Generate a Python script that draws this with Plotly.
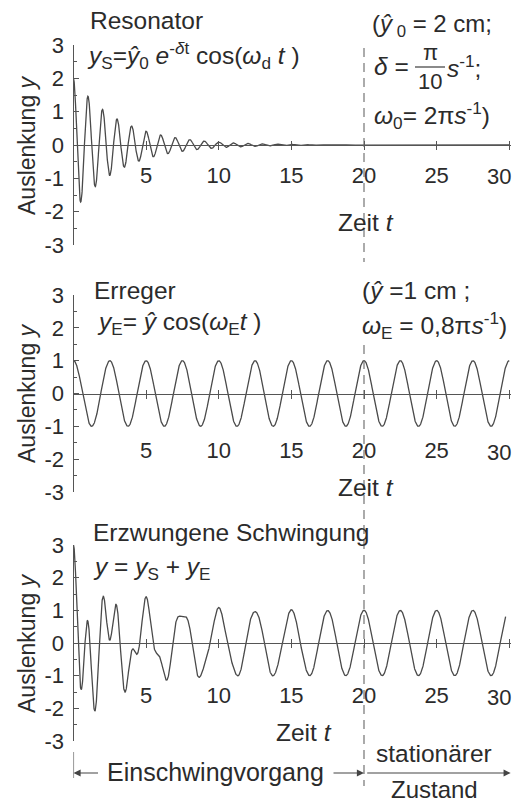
import numpy as np
import plotly.graph_objects as go

# ---- values printed on the chart (parameters of the plotted functions) ----
Y0_RES = 2.0            # ŷ0 = 2 cm
DELTA = np.pi / 10      # δ = π/10 s^-1
OMEGA0 = 2 * np.pi      # ω0 = 2π s^-1
Y_ERR = 1.0             # ŷ = 1 cm
OMEGA_E = 0.8 * np.pi   # ωE = 0,8π s^-1
T_START = 0.0
T_END = 30.0
T_END_SUM = 29.75       # bottom curve stops slightly before 30
T_STATIONARY = 20       # dashed boundary "Einschwingvorgang | stationärer Zustand"

x_tickvals = [5, 10, 15, 20, 25, 30]
x_ticktext = ["5", "10", "15", "20", "25", "30"]
y_tickvals = [-3, -2, -1, 0, 1, 2, 3]
y_ticktext = ["-3", "-2", "-1", "0", "1", "2", "3"]

# ---- curves (the chart plots these printed formulas) ----
t = np.linspace(T_START, T_END, 3001)
omega_d = np.sqrt(OMEGA0 ** 2 - DELTA ** 2)
y_s = Y0_RES * np.exp(-DELTA * t) * np.cos(omega_d * t)
y_e = Y_ERR * np.cos(OMEGA_E * t)
mask = t <= T_END_SUM
t_sum = t[mask]
y_sum = (y_s + y_e)[mask]

W, H = 521, 804
OFF = 8   # page body margin the figure div sits inside
FONT = "Liberation Sans, Arial, Helvetica, sans-serif"
TXT = "#2b2b2b"
AX = "#555555"
CURVE = "#4a4a4a"
TS = 24.5   # text size
KS = 22     # tick label size

def px(x):
    return (x - OFF) / W

def py(y):
    return 1 - (y - OFF) / H

XDOM = [px(73.5), px(510.7)]
XRANGE = [0, 30.1]
doms = {
    1: [py(245), py(45)],
    2: [py(492), py(295)],
    3: [py(741), py(545)],
}
standoffs = {1: 6, 2: 33, 3: 28}
label_rows = {1: 177, 2: 452, 3: 697}   # vertical centre of the x tick labels

# last label is drawn separately (nudged left so it stays inside the page)
axis_ticktext = x_ticktext[:-1] + [""]

fig = go.Figure()
for i, ys, xs in [(1, y_s, t), (2, y_e, t), (3, y_sum, t_sum)]:
    sfx = "" if i == 1 else str(i)
    fig.add_trace(go.Scatter(x=xs, y=ys, mode="lines",
                             line=dict(color=CURVE, width=1.3),
                             xaxis="x" + sfx, yaxis="y" + sfx,
                             hoverinfo="skip", showlegend=False))
    # dummy trace so the overlay tick axis is drawn
    fig.add_trace(go.Scatter(x=[None], y=[None], mode="lines",
                             xaxis="x" + str(i + 3), yaxis="y" + sfx,
                             showlegend=False, hoverinfo="skip"))

layout = dict(width=W, height=H, margin=dict(l=0, r=0, t=0, b=0, pad=0),
              autosize=False,
              paper_bgcolor="white", plot_bgcolor="rgba(0,0,0,0)",
              showlegend=False, font=dict(family=FONT, color=TXT))

for i in (1, 2, 3):
    sfx = "" if i == 1 else str(i)
    mid = (doms[i][0] + doms[i][1]) / 2
    layout["xaxis" + sfx] = dict(
        range=XRANGE, domain=XDOM, anchor="free", position=mid, automargin=False,
        showgrid=False, zeroline=False, showline=True, linecolor=AX, linewidth=1.4,
        tickmode="array", tickvals=x_tickvals, ticktext=axis_ticktext,
        ticks="outside", ticklen=4, tickwidth=1.4, tickcolor=AX,
        ticklabelstandoff=standoffs[i], ticklabeloverflow="allow",
        tickfont=dict(size=KS, color=TXT, family=FONT), fixedrange=True)
    layout["xaxis" + str(i + 3)] = dict(
        range=XRANGE, domain=XDOM, anchor="free", position=mid, automargin=False,
        overlaying="x" + sfx, side="top",
        showgrid=False, zeroline=False, showline=False,
        tickmode="array", tickvals=x_tickvals, showticklabels=False,
        ticks="outside", ticklen=4, tickwidth=1.4, tickcolor=AX, fixedrange=True)
    layout["yaxis" + sfx] = dict(
        range=[-3, 3], domain=doms[i], anchor="x" + sfx, automargin=False,
        showgrid=False, zeroline=False, showline=True, linecolor=AX, linewidth=1.2,
        tickmode="array", tickvals=y_tickvals, ticktext=y_ticktext,
        ticks="inside", ticklen=5, tickwidth=1.1, tickcolor=AX,
        minor=dict(ticks="inside", ticklen=3, dtick=0.5, tick0=0, tickcolor=AX, tickwidth=1),
        ticklabelstandoff=4, ticklabeloverflow="allow",
        tickfont=dict(size=KS, color=TXT, family=FONT), fixedrange=True)

fig.update_layout(**layout)

def ann(text, x, y, size=TS, xanchor="left", angle=0):
    return dict(text=text, x=px(x), y=py(y), xref="paper", yref="paper",
                xanchor=xanchor, yanchor="middle", showarrow=False, textangle=angle,
                borderpad=0, font=dict(size=size, color=TXT, family=FONT))

anns = [
    # y-axis titles
    ann("Auslenkung <i>y</i>", 27, 145, size=23, xanchor="center", angle=-90),
    ann("Auslenkung <i>y</i>", 27, 393, size=23, xanchor="center", angle=-90),
    ann("Auslenkung <i>y</i>", 27, 643, size=23, xanchor="center", angle=-90),
    # top panel
    ann("Resonator", 89, 21),
    ann("<i>y</i><sub>S</sub>=<i>ŷ</i><sub>0</sub> <i>e</i><sup>-<i>δ</i>t</sup> cos(<i>ω</i><sub>d</sub> <i>t</i> )", 86, 55),
    ann("(<i>ŷ</i><sub> 0</sub> = 2 cm;", 371, 25, size=24),
    ann("<i>δ</i> =", 373, 67),
    ann("π", 430, 53, size=22, xanchor="center"),
    ann("10", 430, 81, size=22, xanchor="center"),
    ann("<i>s</i><sup>-1</sup>;", 446, 67),
    ann("<i>ω</i><sub>0</sub>= 2π<i>s</i><sup>-1</sup>)", 373, 115),
    ann("Zeit <i>t</i>", 337, 222),
    # middle panel
    ann("Erreger", 93, 290),
    ann("<i>y</i><sub>E</sub>= <i>ŷ</i> cos(<i>ω</i><sub>E</sub><i>t</i> )", 96, 323),
    ann("(<i>ŷ</i> =1 cm ;", 361, 290),
    ann("<i>ω</i><sub>E</sub> = 0,8π<i>s</i><sup>-1</sup>)", 361, 325),
    ann("Zeit <i>t</i>", 337, 488),
    # bottom panel
    ann("Erzwungene Schwingung", 92, 532),
    ann("<i>y</i> = <i>y</i><sub>S</sub> + <i>y</i><sub>E</sub>", 92, 568),
    ann("Zeit <i>t</i>", 275, 732),
    ann("stationärer", 375, 753),
    ann("Einschwingvorgang", 106, 772, size=25),
    ann("Zustand", 390, 789, size=24),
]

# last x tick label of each panel, nudged left of its tick
for i in (1, 2, 3):
    sfx = "" if i == 1 else str(i)
    anns.append(dict(text=x_ticktext[-1], x=x_tickvals[-1], xref="x" + sfx,
                     y=py(label_rows[i]), yref="paper", xanchor="center",
                     yanchor="middle", xshift=-10, showarrow=False, borderpad=0,
                     font=dict(size=KS, color=TXT, family=FONT)))

# arrows along the bottom
def arrow(x_head, tail_px):
    return dict(x=x_head, y=py(773), xref="x3", yref="paper", text="",
                showarrow=True, ax=tail_px, ay=0, axref="pixel", ayref="pixel",
                arrowhead=2, arrowsize=1.3, arrowwidth=1.1, arrowcolor="#444")

anns += [arrow(0, 26), arrow(T_STATIONARY, -32), arrow(XRANGE[1], -145)]

shapes = [
    # dashed boundary at t = 20
    dict(type="line", xref="x", yref="paper", x0=T_STATIONARY, x1=T_STATIONARY,
         y0=py(48), y1=py(262), line=dict(color="#666", width=1.1, dash="9px,6px")),
    dict(type="line", xref="x", yref="paper", x0=T_STATIONARY, x1=T_STATIONARY,
         y0=py(345), y1=py(786), line=dict(color="#666", width=1.1, dash="9px,6px")),
    # bracket tick at the start of the lower arrow
    dict(type="line", xref="x3", yref="paper", x0=0, x1=0,
         y0=py(752), y1=py(778), line=dict(color="#444", width=1.1)),
    # fraction bar for δ = π/10
    dict(type="line", xref="paper", yref="paper", x0=px(415), x1=px(445),
         y0=py(67), y1=py(67), line=dict(color=TXT, width=1.1)),
]

fig.update_layout(annotations=anns, shapes=shapes)
fig.write_html("out.html")
